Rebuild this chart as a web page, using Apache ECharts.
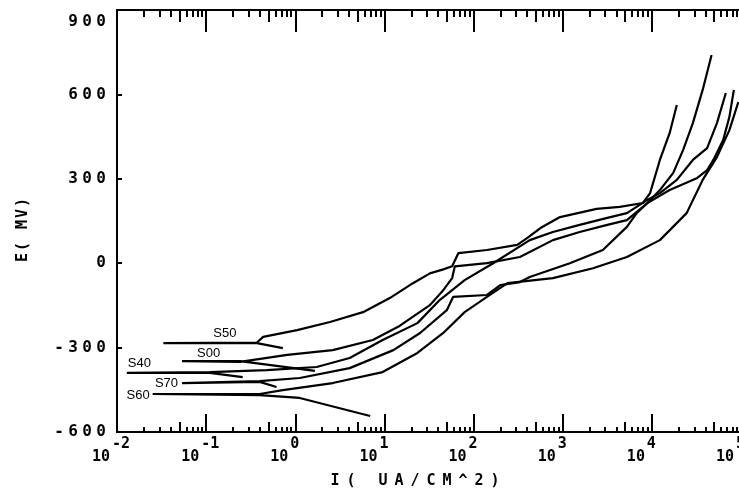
<!DOCTYPE html>
<html><head><meta charset="utf-8">
<script src="https://cdn.jsdelivr.net/npm/echarts@6/dist/echarts.min.js"></script>
<style>html,body{margin:0;padding:0;background:#fff}#c{width:739px;height:498px}</style>
</head><body><div id="c"></div>
<script>
// Curves: [log10 I (uA/cm^2), E (mV)]
const seriesNames = ['S50','S00','S40','S70','S60'];
const S50 = [[-0.14,-302],[-0.43,-284],[-1.48,-284],[-0.43,-282],[-0.36,-262],[0.02,-238],[0.39,-209],[0.76,-174],[1.06,-124],[1.32,-71],[1.51,-36],[1.66,-22],[1.76,-11],[1.83,36],[2.15,47],[2.49,65],[2.60,89],[2.75,125],[2.97,164],[3.38,193],[3.64,200],[3.90,214],[3.98,249],[4.09,367],[4.20,463],[4.28,562]];
const S00 = [[0.22,-383],[-0.62,-348],[-1.27,-348],[-0.62,-351],[-0.09,-326],[0.42,-309],[0.87,-273],[1.17,-223],[1.51,-149],[1.66,-96],[1.76,-53],[1.79,-11],[2.15,0],[2.52,22],[2.89,82],[3.19,111],[3.50,136],[3.72,153],[3.95,214],[4.09,260],[4.24,321],[4.35,402],[4.46,498],[4.57,616],[4.67,740]];
const S40 = [[-0.59,-405],[-0.96,-390],[-1.89,-390],[-0.96,-387],[-0.32,-380],[0.24,-369],[0.61,-337],[0.98,-273],[1.37,-213],[1.62,-131],[1.90,-60],[2.22,0],[2.63,82],[2.89,111],[3.19,136],[3.50,161],[3.72,178],[3.95,225],[4.09,249],[4.28,296],[4.46,367],[4.62,409],[4.73,498],[4.83,605]];
const S70 = [[-0.21,-440],[-0.40,-422],[-1.27,-426],[-0.40,-419],[0.05,-408],[0.61,-373],[1.10,-309],[1.40,-248],[1.70,-167],[1.77,-120],[2.15,-113],[2.30,-78],[2.52,-67],[2.63,-49],[3.08,0],[3.45,47],[3.72,129],[3.83,178],[3.95,214],[4.20,260],[4.51,303],[4.62,331],[4.69,367],[4.80,438],[4.87,520],[4.92,616]];
const S60 = [[0.84,-543],[0.05,-479],[-0.40,-469],[-1.60,-465],[-0.40,-465],[-0.14,-451],[0.42,-426],[0.98,-387],[1.37,-319],[1.66,-248],[1.90,-174],[2.15,-120],[2.38,-71],[2.89,-53],[3.34,-18],[3.72,22],[4.09,82],[4.39,178],[4.57,296],[4.73,377],[4.87,473],[4.97,573]];
const tipIndex = [2,2,2,2,3];

// Tick labels
const xTickExponents = ['-2','-1','0','1','2','3','4','5'];
const yTickValues = [-600,-300,0,300,600,900];
const minorFactors = [2,3,4,6,7,8,9];
const mediumFactors = [5];
const xTitle = 'I( UA/CM^2)';
const yTitle = 'E( MV)';
</script>
<script>
const curves = [S50,S00,S40,S70,S60];
const labelPlacement = [
  {position:'right', distance:0, offset:[50,-10]},
  {position:'right', distance:0, offset:[15,-8]},
  {position:'right', distance:0, offset:[1,-9]},
  {position:'left', distance:4, offset:[0,0]},
  {position:'left', distance:3, offset:[0,1]}
];
const FONT = 'DejaVu Sans Mono';
function spaced(s, key){ return s.split('').map(c => '{' + key + '|' + c + '}').join(''); }
const minorVals = [], mediumVals = [];
for (let d = -2; d < 5; d++) {
  minorFactors.forEach(f => minorVals.push(d + Math.log10(f)));
  mediumFactors.forEach(f => mediumVals.push(d + Math.log10(f)));
}
const lineSt = {color:'#000', width:2};
function tickAxis(pos, len, values) {
  return {type:'value', min:-2, max:5, position:pos,
    axisLine:{show:false, onZero:false}, splitLine:{show:false}, axisLabel:{show:false},
    axisTick:{show:true, inside:true, length:len, customValues:values, lineStyle:lineSt}};
}
const digitStyle = {width:14, align:'center', fontFamily:FONT, fontWeight:'bold', fontSize:16, color:'#000'};
const chart = echarts.init(document.getElementById('c'));
chart.setOption({
  animation:false,
  backgroundColor:'#fff',
  grid:{left:117, top:10, width:624, height:422, containLabel:false, outerBoundsMode:'none'},
  xAxis:[
    {type:'value', min:-2, max:5, interval:1, position:'bottom',
      axisLine:{show:true, onZero:false, lineStyle:lineSt},
      axisTick:{show:true, inside:true, length:18, lineStyle:lineSt},
      splitLine:{show:false},
      axisLabel:{margin:5, showMinLabel:true, showMaxLabel:true,
        formatter: v => '{b|10}{e|' + xTickExponents[Math.round(v) + 2] + '}',
        rich:{
          b:{width:20, align:'left', verticalAlign:'bottom', padding:[13,0,0,0], fontFamily:FONT, fontWeight:'bold', fontSize:15, color:'#000'},
          e:{width:30, align:'left', verticalAlign:'top', fontFamily:FONT, fontWeight:'bold', fontSize:15, color:'#000'}
        }},
      name: spaced(xTitle, 'n'), nameLocation:'middle', nameGap:42,
      nameTextStyle:{padding:[0,28,0,0], rich:{n:{width:16, align:'center', fontFamily:FONT, fontWeight:'bold', fontSize:15, color:'#000'}}}
    },
    tickAxis('bottom', 5, minorVals),
    tickAxis('bottom', 10, mediumVals),
    {type:'value', min:-2, max:5, interval:1, position:'top',
      axisLine:{show:true, onZero:false, lineStyle:lineSt},
      axisTick:{show:true, inside:true, length:22, lineStyle:lineSt},
      splitLine:{show:false}, axisLabel:{show:false}},
    tickAxis('top', 7, minorVals),
    tickAxis('top', 12, mediumVals)
  ],
  yAxis:{type:'value', min:yTickValues[0], max:yTickValues[yTickValues.length-1], interval:300,
    axisLine:{show:true, onZero:false, lineStyle:lineSt},
    axisTick:{show:true, inside:true, length:5, lineStyle:lineSt},
    splitLine:{show:false},
    axisLabel:{margin:9,
      formatter: v => v === 900 ? spaced(String(v), 'dt') : spaced(String(v), 'd'),
      rich:{d:digitStyle, dt:Object.assign({}, digitStyle, {padding:[24,0,0,0]})}},
    name: spaced(yTitle, 'n'), nameLocation:'middle', nameRotate:90, nameGap:86,
    nameTextStyle:{padding:[0,18,0,0], rich:{n:{width:11, align:'center', fontFamily:FONT, fontWeight:'bold', fontSize:15, color:'#000'}}}
  },
  series: curves.map((data, i) => ({
    name: seriesNames[i], type:'line', data: data, xAxisIndex:0, yAxisIndex:0,
    symbol:'none', showSymbol:false, silent:true, smooth:false, clip:false,
    lineStyle:{color:'#000', width:2.2},
    markPoint:{symbol:'circle', symbolSize:0, silent:true,
      data:[{coord: data[tipIndex[i]],
        label:Object.assign({show:true, formatter: seriesNames[i], color:'#000', fontFamily:'Liberation Sans', fontSize:13}, labelPlacement[i])}]}
  }))
});
</script>
</body></html>
